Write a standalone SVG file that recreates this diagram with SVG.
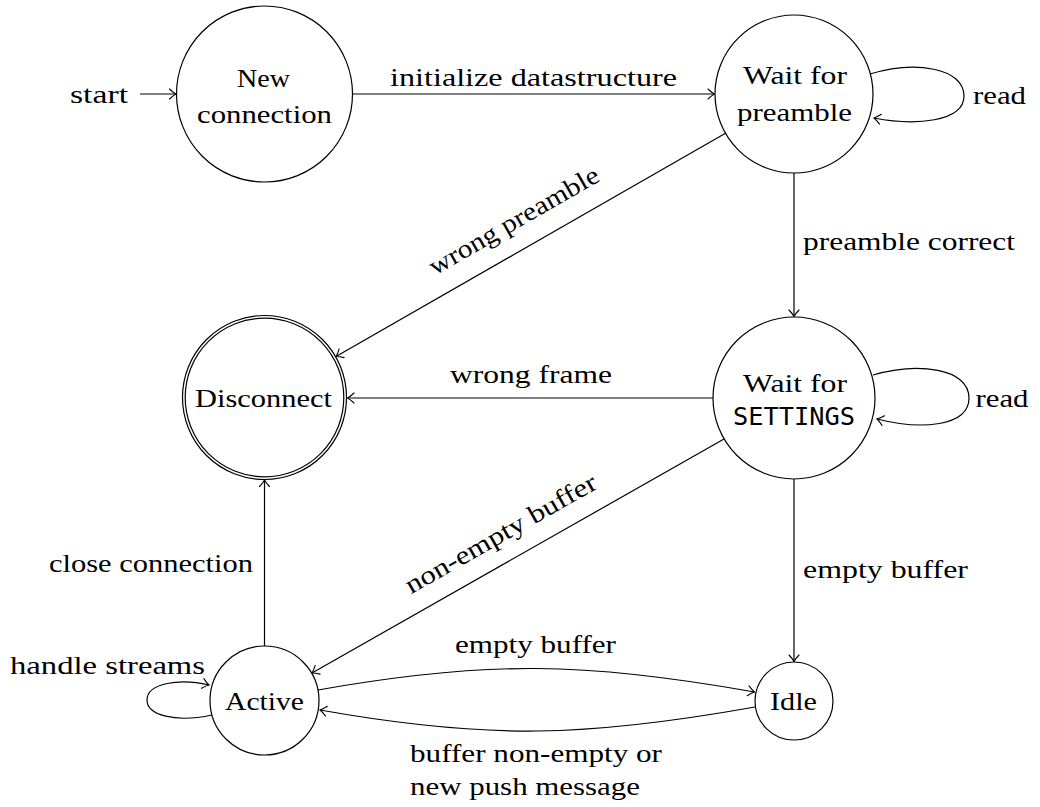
<svg xmlns="http://www.w3.org/2000/svg" width="1040" height="807" viewBox="0 0 1040 807">
  <style>
    .state { fill: #ffffff; stroke: #000000; stroke-width: 1.2; }
    .edge { fill: none; stroke: #000000; stroke-width: 1.2; marker-end: url(#tip); }
    .lbl { font-family: "Liberation Serif", "DejaVu Serif", "Noto Serif", serif; font-size: 26px; fill: #000000; }
    .mid { text-anchor: middle; }
    .mono { font-family: "DejaVu Sans Mono", "Liberation Mono", monospace; font-size: 25px; fill: #000000; text-anchor: middle; }
  </style>
  <defs>
    <marker id="tip" viewBox="-8 -7 10 14" refX="0" refY="0" markerWidth="10" markerHeight="14" markerUnits="userSpaceOnUse" orient="auto">
      <path d="M -6.5 -5 Q -2.5 -1.2 0 0 Q -2.5 1.2 -6.5 5" fill="none" stroke="#000000" stroke-width="1.1" stroke-linecap="round"/>
    </marker>
  </defs>

  <rect width="1040" height="807" fill="#ffffff"/>

  <!-- connectors -->
  <g id="edges">
    <path class="edge" d="M 140 94 L 176 94"/>
    <path class="edge" d="M 352.5 94 L 714.5 94"/>
    <path class="edge" d="M 870 74 C 915 60, 964 68, 964 96 C 964 122, 915 126, 874 118"/>
    <path class="edge" d="M 725.5 133.3 L 336 356.5"/>
    <path class="edge" d="M 794 173 L 794 316.5"/>
    <path class="edge" d="M 713 398 L 347.5 398"/>
    <path class="edge" d="M 873 375 C 918 362, 969 368, 969 398 C 969 427, 920 430, 877 419"/>
    <path class="edge" d="M 724 439 L 312 673"/>
    <path class="edge" d="M 794 479 L 794 661.5"/>
    <path class="edge" d="M 264.5 646 L 264.5 480"/>
    <path class="edge" d="M 212 715 C 175 723, 147 715, 147 700 C 147 683, 180 678, 209 685"/>
    <path class="edge" d="M 318 690 C 486 660, 587 662, 754.5 692"/>
    <path class="edge" d="M 755 707 C 587 737, 488 740, 320 710"/>

    <text class="lbl mid" x="99" y="103" textLength="58" lengthAdjust="spacingAndGlyphs">start</text>
    <text class="lbl mid" x="533.5" y="86" textLength="287" lengthAdjust="spacingAndGlyphs">initialize datastructure</text>
    <text class="lbl mid" x="999.5" y="104" textLength="53" lengthAdjust="spacingAndGlyphs">read</text>
    <text class="lbl mid" x="518" y="228" textLength="192" lengthAdjust="spacingAndGlyphs" transform="rotate(-29.8 518 228)">wrong preamble</text>
    <text class="lbl mid" x="909" y="250" textLength="212" lengthAdjust="spacingAndGlyphs">preamble correct</text>
    <text class="lbl mid" x="531" y="383" textLength="162" lengthAdjust="spacingAndGlyphs">wrong frame</text>
    <text class="lbl mid" x="1002" y="407" textLength="53" lengthAdjust="spacingAndGlyphs">read</text>
    <text class="lbl mid" x="505" y="541" textLength="216" lengthAdjust="spacingAndGlyphs" transform="rotate(-29.6 505 541)">non-empty buffer</text>
    <text class="lbl mid" x="885.5" y="578" textLength="165" lengthAdjust="spacingAndGlyphs">empty buffer</text>
    <text class="lbl mid" x="151" y="572" textLength="204" lengthAdjust="spacingAndGlyphs">close connection</text>
    <text class="lbl mid" x="107.5" y="674" textLength="195" lengthAdjust="spacingAndGlyphs">handle streams</text>
    <text class="lbl mid" x="535.5" y="653" textLength="161" lengthAdjust="spacingAndGlyphs">empty buffer</text>
    <text class="lbl" x="410" y="762" textLength="252" lengthAdjust="spacingAndGlyphs">buffer non-empty or</text>
    <text class="lbl" x="410" y="795" textLength="230" lengthAdjust="spacingAndGlyphs">new push message</text>
  </g>

  <!-- states -->
  <g id="new-connection">
    <circle class="state" cx="264.5" cy="94" r="88"/>
    <text class="lbl mid" x="263.5" y="87" textLength="53" lengthAdjust="spacingAndGlyphs">New</text>
    <text class="lbl mid" x="264.5" y="123" textLength="135" lengthAdjust="spacingAndGlyphs">connection</text>
  </g>
  <g id="wait-preamble">
    <circle class="state" cx="794" cy="94" r="79"/>
    <text class="lbl mid" x="795" y="84" textLength="104" lengthAdjust="spacingAndGlyphs">Wait for</text>
    <text class="lbl mid" x="794.5" y="121" textLength="115" lengthAdjust="spacingAndGlyphs">preamble</text>
  </g>
  <g id="disconnect">
    <circle class="state" cx="264.5" cy="397.5" r="82"/>
    <circle class="state" cx="264.5" cy="397.5" r="79.3"/>
    <text class="lbl mid" x="263.5" y="407" textLength="137" lengthAdjust="spacingAndGlyphs">Disconnect</text>
  </g>
  <g id="wait-settings">
    <circle class="state" cx="794" cy="398" r="81"/>
    <text class="lbl mid" x="795" y="392" textLength="104" lengthAdjust="spacingAndGlyphs">Wait for</text>
    <text class="mono" x="794" y="425" textLength="122" lengthAdjust="spacingAndGlyphs">SETTINGS</text>
  </g>
  <g id="active">
    <circle class="state" cx="264.5" cy="700.5" r="54.5"/>
    <text class="lbl mid" x="264.5" y="710" textLength="79" lengthAdjust="spacingAndGlyphs">Active</text>
  </g>
  <g id="idle">
    <circle class="state" cx="794" cy="701" r="39"/>
    <text class="lbl mid" x="793.5" y="710" textLength="47" lengthAdjust="spacingAndGlyphs">Idle</text>
  </g>
</svg>
